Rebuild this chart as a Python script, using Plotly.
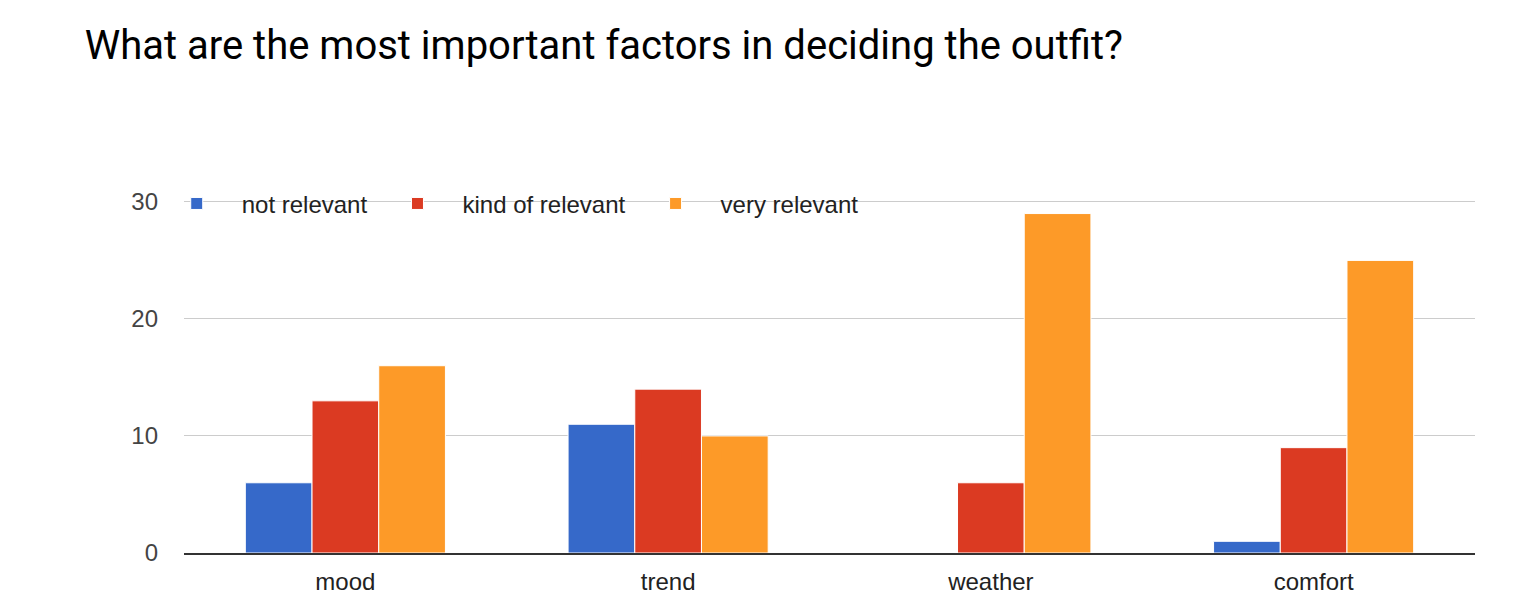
import plotly.graph_objects as go

factors = ["mood", "trend", "weather", "comfort"]
series_names = ["not relevant", "kind of relevant", "very relevant"]
not_relevant = [6, 11, 0, 1]
kind_of_relevant = [13, 14, 6, 9]
very_relevant = [16, 10, 29, 25]
y_ticks = [0, 10, 20, 30]

colors = ["#3669C9", "#DB3A22", "#FD9A28"]

fig = go.Figure()
for name, vals, col in zip(series_names, [not_relevant, kind_of_relevant, very_relevant], colors):
    fig.add_trace(go.Bar(
        x=factors, y=vals, name=name,
        marker=dict(color=col, line=dict(color="white", width=1)),
    ))

fig.update_layout(
    width=1534, height=610,
    barmode="group", bargap=0.38, bargroupgap=0,
    plot_bgcolor="white", paper_bgcolor="white",
    font=dict(family="Arial, 'Liberation Sans', sans-serif", size=24, color="#222"),
    title=dict(
        text="What are the most important factors in deciding the outfit?",
        xref="container", x=0.050, xanchor="left",
        yref="container", y=0.94, yanchor="middle",
        font=dict(family="Roboto, sans-serif", size=40, color="#000"),
    ),
    margin=dict(l=176, r=67, t=188, b=65),
    legend=dict(
        orientation="h", x=-0.025, y=0.978, xanchor="left", yanchor="middle",
        bgcolor="rgba(0,0,0,0)", font=dict(size=24, color="#222"),
        itemwidth=80,
    ),
)

# Google-charts style axes: light grid, dark baseline
fig.update_yaxes(
    range=[0, 30.5], tickvals=y_ticks, showgrid=True, gridcolor="#cccccc",
    gridwidth=1, zeroline=False, ticks="", ticklabelstandoff=25,
    tickfont=dict(size=24, color="#444"),
)
fig.update_xaxes(
    showline=True, linecolor="#333", linewidth=2, ticks="", ticklabelstandoff=6,
    tickfont=dict(size=24, color="#222"),
)

fig.write_html("out.html")
